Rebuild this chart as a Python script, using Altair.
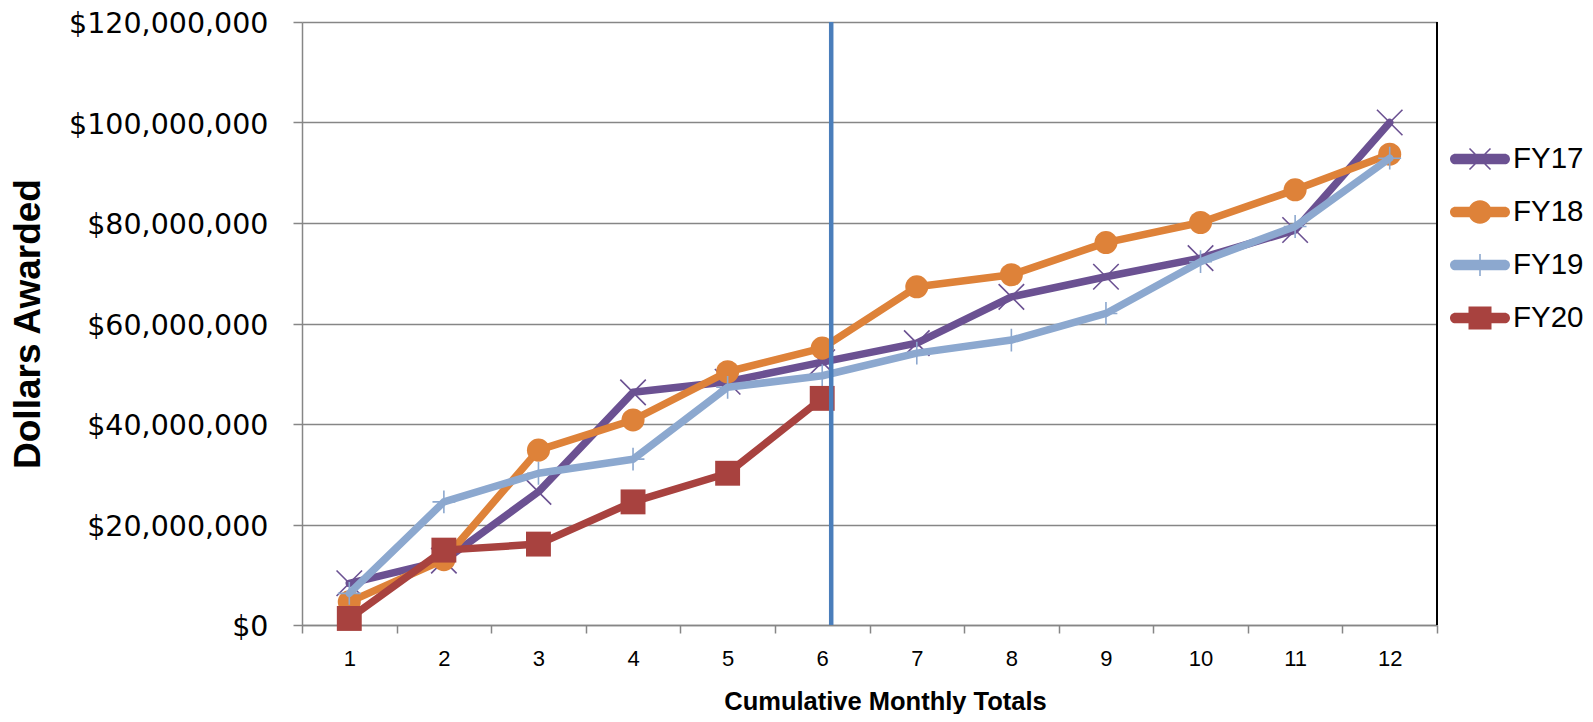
import math
import altair as alt
import pandas as pd

# ---------------- data ----------------
months = list(range(1, 13))
series_names = ["FY17", "FY18", "FY19", "FY20"]
fy17 = [8_300_000, 12_800_000, 26_500_000, 46_300_000, 48_400_000, 52_300_000,
        56_100_000, 65_300_000, 69_300_000, 73_000_000, 78_600_000, 100_000_000]
fy18 = [4_600_000, 13_000_000, 34_800_000, 40_800_000, 50_400_000, 55_100_000,
        67_300_000, 69_700_000, 76_100_000, 80_100_000, 86_600_000, 93_700_000]
fy19 = [6_300_000, 24_500_000, 30_200_000, 33_000_000, 47_300_000, 49_600_000,
        54_100_000, 56_700_000, 62_000_000, 72_300_000, 79_300_000, 92_900_000]
fy20 = [1_300_000, 14_900_000, 16_100_000, 24_500_000, 30_200_000, 45_100_000]
marker_month = [6]
y_ticks = [0, 20_000_000, 40_000_000, 60_000_000, 80_000_000, 100_000_000, 120_000_000]
y_max = 120_000_000

series_values = {"FY17": fy17, "FY18": fy18, "FY19": fy19, "FY20": fy20}
rows = []
for name in series_names:
    for m, v in zip(months, series_values[name]):
        rows.append({"month": m, "series": name, "value": v})
df = pd.DataFrame(rows)
vline_df = pd.DataFrame({"month": marker_month, "top": [y_max], "bottom": [0]})

# ---------------- style ----------------
W, H = 1135, 603
colors = {"FY17": "#6B5192", "FY18": "#DE8239", "FY19": "#8CA8CF", "FY20": "#A8423F"}
GRAY = "#868686"
band = W / 12.0

# legend symbols: filled composite paths (bar + marker), unit = 15 px
U = 15.0


def poly(pts):
    a = sum(pts[i][0] * pts[(i + 1) % len(pts)][1] - pts[(i + 1) % len(pts)][0] * pts[i][1]
            for i in range(len(pts)))
    if a < 0:
        pts = pts[::-1]
    s = "M" + "L".join(f"{x / U:.4f},{y / U:.4f}" for x, y in pts) + "Z"
    return s


def stroke_poly(ax, ay, bx, by, t):
    dx, dy = bx - ax, by - ay
    L = math.hypot(dx, dy)
    nx, ny = -dy / L * t / 2, dx / L * t / 2
    return poly([(ax + nx, ay + ny), (bx + nx, by + ny), (bx - nx, by - ny), (ax - nx, ay - ny)])


def bar_path():
    r = 5.35
    x0 = 30 - r
    return (f"M{-x0 / U:.4f},{-r / U:.4f}L{x0 / U:.4f},{-r / U:.4f}"
            f"A{r / U:.4f},{r / U:.4f} 0 0 1 {x0 / U:.4f},{r / U:.4f}"
            f"L{-x0 / U:.4f},{r / U:.4f}"
            f"A{r / U:.4f},{r / U:.4f} 0 0 1 {-x0 / U:.4f},{-r / U:.4f}Z")


def circle_path(r):
    return (f"M0,{-r / U:.4f}A{r / U:.4f},{r / U:.4f} 0 1 1 0,{r / U:.4f}"
            f"A{r / U:.4f},{r / U:.4f} 0 1 1 0,{-r / U:.4f}Z")


legend_paths = [
    bar_path() + stroke_poly(-10.5, -10.5, 10.5, 10.5, 1.6) + stroke_poly(-10.5, 10.5, 10.5, -10.5, 1.6),
    bar_path() + circle_path(11.8),
    bar_path() + stroke_poly(0, -11, 0, 11, 1.6) + stroke_poly(-11, 0, 11, 0, 1.6),
    bar_path() + poly([(-11.5, -11.5), (11.5, -11.5), (11.5, 11.5), (-11.5, 11.5)]),
]

x_enc = alt.X(
    "month:Q",
    scale=alt.Scale(domain=[0.5, 12.5], nice=False, zero=False),
    axis=alt.Axis(
        values=[i + 0.5 for i in range(13)],
        labelExpr="datum.value < 12 ? format(datum.value + 0.5, 'd') : ''",
        labelOffset=band / 2,
        labelOverlap=False, labelFlush=False, labelBound=False,
        grid=False,
        domainColor=GRAY, domainWidth=1.5,
        tickColor=GRAY, tickWidth=1.5, tickSize=8,
        labelFont="Liberation Sans", labelFontSize=22, labelColor="black", labelPadding=15,
        title="Cumulative Monthly Totals",
        titleFont="Liberation Sans", titleFontSize=25.5, titleFontWeight="bold", titleColor="black",
        titleX=583, titleY=76, titleAlign="center", titleBaseline="middle",
    ),
)
y_enc = alt.Y(
    "value:Q",
    scale=alt.Scale(domain=[0, y_max], nice=False),
    axis=alt.Axis(
        values=y_ticks, format="$,.0f",
        labelOverlap=False, labelFlush=False, labelLimit=0, labelOffset=1.5,
        grid=True, gridColor=GRAY, gridWidth=1.5,
        domainColor=GRAY, domainWidth=1.5,
        tickColor=GRAY, tickWidth=1.5, tickSize=9,
        labelFont="DejaVu Sans", labelFontSize=28.5, labelColor="black", labelPadding=25,
        title="Dollars Awarded",
        titleFont="Liberation Sans", titleFontSize=37, titleFontWeight="bold", titleColor="black",
        titleAngle=270, titleX=-273.5, titleY=301.5, titleAlign="center", titleBaseline="middle",
        titleLimit=0,
    ),
)

base = alt.Chart(df)
layers = []
marker_style = {
    "FY17": dict(shape="M-1,-1L1,1M-1,1L1,-1", filled=False, size=650, strokeWidth=1.6),
    "FY18": dict(shape="circle", filled=True, size=530),
    "FY19": dict(shape="M-1,0L1,0M0,-1L0,1", filled=False, size=520, strokeWidth=1.6),
    "FY20": dict(shape="square", filled=True, size=620),
}
for name in series_names:
    sub = base.transform_filter(alt.datum.series == name)
    layers.append(
        sub.mark_line(color=colors[name], strokeWidth=7.5, strokeJoin="round", strokeCap="round")
        .encode(x=x_enc, y=y_enc)
    )
    layers.append(
        sub.mark_point(color=colors[name], opacity=1, **marker_style[name])
        .encode(x=x_enc, y=y_enc)
    )

legend_props = dict(
    orient="none", legendX=1163, legendY=122, title=None,
    symbolSize=900, symbolStrokeWidth=0, symbolOpacity=1,
    labelFont="Liberation Sans", labelFontSize=29.5, labelColor="black",
    labelOffset=18, rowPadding=23, padding=0, labelBaseline="middle",
)
legend_layer = base.mark_point(filled=True, opacity=0).encode(
    x=x_enc, y=y_enc,
    color=alt.Color("series:N", scale=alt.Scale(domain=series_names, range=[colors[s] for s in series_names]),
                    legend=alt.Legend(**legend_props)),
    shape=alt.Shape("series:N", scale=alt.Scale(domain=series_names, range=legend_paths),
                    legend=alt.Legend(**legend_props)),
)
layers.append(legend_layer)

vline = alt.Chart(vline_df).mark_rule(color="#4A7EBB", strokeWidth=4.5, xOffset=9).encode(
    x=x_enc, y=alt.Y("top:Q", scale=alt.Scale(domain=[0, y_max], nice=False)), y2="bottom:Q"
)
layers.append(vline)

right_line = alt.Chart(vline_df).mark_rule(color="black", strokeWidth=2).encode(
    x=alt.value(W), y=alt.value(0), y2=alt.value(H)
)
layers.append(right_line)

chart = alt.layer(*layers).properties(
    width=W, height=H,
    autosize=alt.AutoSizeParams(type="none"),
    padding={"left": 294, "top": 14, "right": 148, "bottom": 89},
    background="white",
).configure_view(stroke=None)

chart.save("out.html", embed_options={"renderer": "svg", "actions": False})
